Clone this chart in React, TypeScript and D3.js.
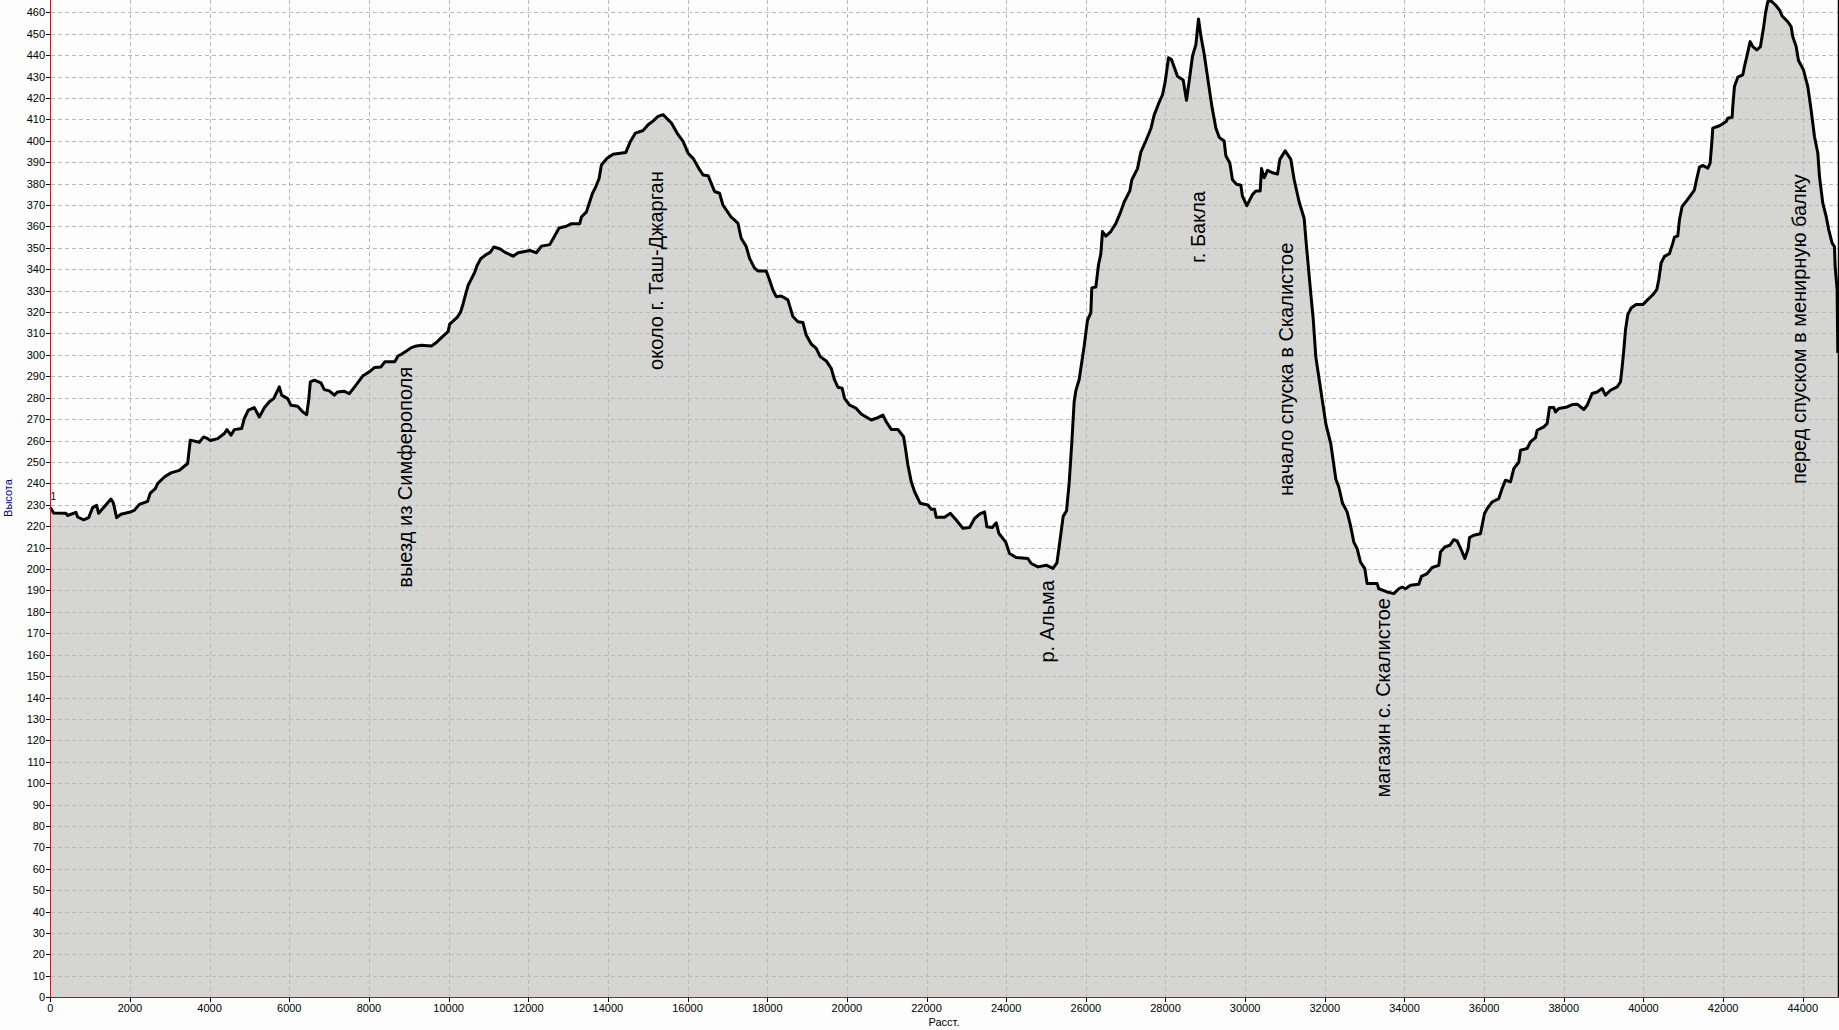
import React from "react";
import * as d3 from "d3";

// ---- data (distance in m, elevation in m) ----
const distances = [
  0, 84, 393, 435, 644, 686, 837, 963, 1063, 1163, 1214, 1339, 1523, 1582, 1666, 1774, 1984, 2109, 2235, 2444,
  2511, 2637, 2695, 2863, 3030, 3239, 3448, 3515, 3741, 3850, 3951, 4018, 4202, 4369, 4436, 4537, 4620, 4804, 4871, 4972,
  5122, 5248, 5374, 5499, 5608, 5750, 5809, 5959, 6043, 6210, 6336, 6437, 6487, 6529, 6629, 6796, 6880, 7006, 7131, 7215,
  7382, 7508, 7675, 7843, 8010, 8136, 8303, 8397, 8648, 8731, 8815, 8941, 9066, 9192, 9317, 9568, 9694, 9820, 9987, 10029,
  10213, 10297, 10364, 10431, 10489, 10573, 10657, 10715, 10807, 10908, 11050, 11134, 11284, 11410, 11619, 11745, 11912, 12038, 12205, 12331,
  12540, 12649, 12774, 12958, 13084, 13293, 13335, 13461, 13544, 13611, 13695, 13779, 13837, 13979, 14130, 14448, 14565, 14691, 14883, 15009,
  15151, 15260, 15386, 15469, 15595, 15737, 15888, 16013, 16139, 16306, 16390, 16516, 16678, 16803, 16887, 16971, 17096, 17264, 17347, 17473,
  17557, 17682, 17766, 17975, 18059, 18142, 18226, 18352, 18519, 18645, 18770, 18896, 18979, 19105, 19231, 19331, 19482, 19607, 19691, 19775,
  19883, 19942, 20067, 20235, 20360, 20612, 20737, 20905, 20988, 21114, 21281, 21423, 21465, 21532, 21616, 21700, 21842, 22034, 22118, 22202,
  22244, 22453, 22595, 22746, 22913, 23081, 23206, 23332, 23457, 23516, 23650, 23750, 23817, 23985, 24085, 24252, 24546, 24629, 24797, 25006,
  25173, 25274, 25341, 25431, 25515, 25582, 25648, 25707, 25749, 25833, 25916, 25958, 26041, 26125, 26150, 26251, 26318, 26376, 26418, 26502,
  26627, 26753, 26862, 26962, 27104, 27155, 27297, 27381, 27506, 27632, 27715, 27824, 27925, 27992, 28075, 28151, 28301, 28444, 28527, 28611,
  28678, 28762, 28829, 28887, 28971, 29080, 29163, 29264, 29348, 29473, 29515, 29615, 29682, 29783, 29892, 29933, 30042, 30185, 30268, 30377,
  30411, 30478, 30561, 30670, 30812, 30871, 31005, 31147, 31231, 31356, 31482, 31524, 31591, 31650, 31708, 31775, 31859, 31942, 32026, 32152,
  32277, 32351, 32445, 32560, 32644, 32728, 32811, 32895, 33004, 33062, 33314, 33355, 33565, 33732, 33858, 33941, 34025, 34151, 34360, 34427,
  34569, 34695, 34862, 34904, 35013, 35138, 35239, 35322, 35431, 35515, 35599, 35632, 35741, 35908, 35950, 36009, 36076, 36201, 36369, 36452,
  36536, 36662, 36745, 36871, 36913, 37080, 37164, 37290, 37331, 37499, 37582, 37641, 37750, 37792, 37875, 38084, 38210, 38336, 38503, 38587,
  38712, 38838, 38963, 39047, 39173, 39340, 39424, 39466, 39507, 39549, 39607, 39691, 39816, 39984, 40109, 40235, 40335, 40385, 40444, 40528,
  40653, 40737, 40779, 40863, 40904, 40971, 41072, 41197, 41281, 41323, 41406, 41490, 41616, 41674, 41716, 41741, 41909, 41992, 42076, 42118,
  42227, 42243, 42285, 42369, 42495, 42536, 42595, 42679, 42746, 42846, 42938, 43013, 43064, 43122, 43206, 43315, 43415, 43482, 43625, 43708,
  43750, 43834, 43893, 44018, 44127, 44210, 44294, 44378, 44420, 44503, 44587, 44653, 44737, 44796, 44813, 44863, 44880,
];

const elevations = [
  228.7, 226.2, 226, 225, 226.5, 224.3, 223, 224, 228.7, 229.8, 226, 228.7, 232.7, 230.9, 224, 225.6, 226.5, 227.4, 230.2, 231.6,
  235.5, 237.6, 239.9, 243, 244.9, 246.1, 249.3, 260.2, 259.2, 261.7, 260.9, 260, 260.9, 263.3, 265.1, 262.5, 265.1, 265.6, 270.3, 274.2,
  275.4, 271, 275.3, 278.1, 279.6, 285.1, 281.2, 279.6, 276.5, 276, 273.4, 272.1, 278.8, 287.4, 288.2, 286.9, 283.8, 283.2, 281.2, 282.7,
  283, 281.9, 285.9, 290.1, 292.1, 294.1, 294.4, 296.8, 296.8, 299.5, 300.3, 301.8, 303.4, 304.2, 304.5, 304.2, 305.8, 308.1, 310.9, 314.4,
  317.5, 319.8, 323.8, 328.5, 332.4, 335.5, 338.6, 341.8, 344.9, 346.4, 348, 350.4, 349.6, 348, 346.1, 347.7, 348.3, 348.8, 347.7, 350.8,
  351.5, 355.1, 359.3, 360.1, 361.3, 361.3, 364.4, 366.8, 371.5, 375.4, 378.5, 382.4, 388.7, 391.8, 393.7, 394.5, 399.7, 403.6, 404.8, 407.5,
  409.5, 411.4, 412.2, 410.6, 408.3, 403.6, 399.7, 394.2, 391.8, 386.4, 384, 383.7, 376.3, 375.5, 370, 367.7, 364.3, 361.5, 354.5, 350.6,
  345.1, 340.5, 339.2, 339.2, 335, 330.3, 327.2, 327.5, 325.7, 317.9, 315.5, 315.1, 309.3, 305.1, 303.1, 299.2, 297.2, 293.7, 288.3, 284.9,
  284.4, 279.7, 276.6, 275, 272.4, 269.6, 270.4, 271.9, 268.8, 265.2, 265.2, 261.8, 257.1, 248.6, 240.8, 236.1, 230.7, 229.9, 227.9, 227.9,
  224.2, 224.2, 226, 222.9, 219, 219.4, 223.6, 225.6, 226.7, 219.7, 219.4, 221.6, 216.6, 212.7, 207.3, 205.4, 204.9, 202.6, 201, 201.8,
  200.3, 202.9, 211.9, 224.6, 227.2, 240.2, 259.2, 278.2, 283.3, 288.5, 298.9, 304.1, 316.2, 319.6, 331.3, 331.7, 342.1, 347.2, 357.6, 355.5,
  357.6, 361.4, 366.2, 371.4, 376.6, 381.8, 387, 394.7, 399.9, 405.6, 412, 417.2, 421.5, 427.5, 438.8, 437.9, 430.1, 428.4, 418.9, 430.1,
  439.6, 444.8, 456.9, 449.1, 440.5, 426.7, 416.3, 406, 401.6, 399.9, 393, 389.6, 381.8, 379.7, 379.2, 374, 369.7, 374.9, 376.6, 376.6,
  387, 382.7, 386.2, 385.2, 384.4, 391.3, 395.3, 391.3, 381.8, 371.4, 363.7, 354.1, 340.3, 328.2, 317, 298.9, 288.5, 278.2, 267.8, 258.3,
  241.9, 238.3, 230.7, 226.7, 220.4, 212.6, 209.5, 203.3, 200.2, 193.2, 193.2, 190.8, 189.3, 188.5, 190.8, 191.6, 190.8, 192.4, 192.9, 196.6,
  197.9, 200.7, 201.7, 208, 210.3, 211.1, 213.7, 213.1, 208.8, 204.9, 209.5, 214.7, 215.8, 216.5, 220.4, 225.9, 228.2, 231.3, 232.9, 237.6,
  241.5, 240.7, 246.9, 250, 255.5, 256.3, 259.4, 261.4, 264.8, 266.4, 267.9, 275.4, 275.4, 273.4, 275, 275.7, 276.8, 277, 274.5, 276.5,
  282, 282.7, 284.3, 281.2, 283.5, 285.1, 287.4, 294.4, 302.2, 311.6, 318.8, 321.9, 323.5, 323.5, 325.8, 328.1, 330.5, 335.1, 342.9, 346,
  347.3, 352.2, 355, 355.6, 363.1, 369.3, 371.7, 374.8, 377.1, 381, 387.7, 388.5, 387.2, 389.6, 398.9, 405.9, 407, 408, 409, 410.5,
  411, 416, 425.3, 429.7, 430.8, 434.7, 439.3, 446.3, 444, 442.4, 444, 452.5, 459.5, 465, 465.3, 463.4, 461.1, 458.3, 455.6, 453.3,
  448.6, 444, 437.5, 433.1, 425.3, 414.4, 402, 394.2, 383.3, 370.9, 364.7, 358.4, 352.2, 350.6, 341.3, 330.5, 300.9,
];

const xTicks = d3.range(0, 44001, 2000);
const yTicks = d3.range(0, 461, 10);

const annotationTexts = [
  "выезд из Симферополя",
  "около г. Таш-Джарган",
  "р. Альма",
  "г. Бакла",
  "начало спуска в Скалистое",
  "магазин с. Скалистое",
  "перед спуском в менирную балку",
];
const annotationDistances = [9074, 15383, 25194, 29003, 31195, 33646, 44093];
const annotationElevations = [191.3, 293, 156.3, 342.9, 234.1, 93.3, 239.7];

const xTitle = "Расст.";
const yTitle = "Высота";
const startMarker = "1";

const W = 1839;
const H = 1030;
const FONT = "'Liberation Sans', Arial, sans-serif";

export default function App() {
  const x = d3.scaleLinear().domain([0, 44900]).range([50.3, 1838.6]);
  const y = d3.scaleLinear().domain([0, 460]).range([997.3, 12.3]);
  const pts = distances.map((d, i) => [d, elevations[i]] as [number, number]);

  const area = d3
    .area<[number, number]>()
    .x((d) => x(d[0]))
    .y0(y(0))
    .y1((d) => Math.max(0, y(d[1])));
  const line = d3
    .line<[number, number]>()
    .x((d) => x(d[0]))
    .y((d) => Math.max(1, y(d[1])));

  const plotLeft = 50;
  const plotRight = 1838;
  const plotBottom = Math.round(y(0));

  return (
    <svg
      width={W}
      height={H}
      style={{ position: "absolute", left: 0, top: 0, display: "block" }}
      fontFamily={FONT}
    >
      <rect x={0} y={0} width={W} height={H} fill="#fcfdfc" />
      <path d={area(pts) || ""} fill="#d5d6d4" />
      {/* grid */}
      <g stroke="#b9b9b9" strokeWidth={1} strokeDasharray="4,3" shapeRendering="crispEdges">
        {yTicks
          .filter((v) => v > 0)
          .map((v) => (
            <line key={"gy" + v} x1={plotLeft + 1} x2={plotRight} y1={Math.round(y(v)) + 0.5} y2={Math.round(y(v)) + 0.5} />
          ))}
        {xTicks
          .filter((v) => v > 0)
          .map((v) => (
            <line key={"gx" + v} x1={Math.round(x(v)) + 0.5} x2={Math.round(x(v)) + 0.5} y1={0} y2={plotBottom} />
          ))}
      </g>
      {/* profile line */}
      <path d={line(pts) || ""} fill="none" stroke="#000" strokeWidth={3} strokeLinejoin="round" />
      {/* right border */}
      <line x1={plotRight + 0.5} x2={plotRight + 0.5} y1={0} y2={plotBottom} stroke="#000" strokeWidth={1.5} />
      {/* axes */}
      <g shapeRendering="crispEdges">
        <line x1={plotLeft + 0.5} x2={plotLeft + 0.5} y1={0} y2={plotBottom + 1} stroke="#ff0000" strokeWidth={1} />
        <line x1={plotLeft} x2={plotRight + 1} y1={plotBottom + 0.5} y2={plotBottom + 0.5} stroke="#e00000" strokeWidth={1} />
        {yTicks.map((v) => (
          <line key={"ty" + v} x1={46} x2={plotLeft} y1={Math.round(y(v)) + 0.5} y2={Math.round(y(v)) + 0.5} stroke="#000" />
        ))}
        {xTicks.map((v) => (
          <line key={"tx" + v} x1={Math.round(x(v)) + 0.5} x2={Math.round(x(v)) + 0.5} y1={plotBottom + 1} y2={plotBottom + 5} stroke="#000" />
        ))}
      </g>
      <g fontSize={11} fill="#000">
        {yTicks.map((v) => (
          <text key={"ly" + v} x={45} y={y(v) + 4} textAnchor="end">
            {v}
          </text>
        ))}
        {xTicks.map((v) => (
          <text key={"lx" + v} x={x(v)} y={1012} textAnchor="middle">
            {v}
          </text>
        ))}
        <text x={944} y={1026} textAnchor="middle">
          {xTitle}
        </text>
        <text transform={`translate(11.5,498) rotate(-90)`} textAnchor="middle" fill="#000080">
          {yTitle}
        </text>
        <text x={50.5} y={500} fontSize={10}>
          {startMarker}
        </text>
      </g>
      <g fontSize={20} fill="#000">
        {annotationTexts.map((t, i) => (
          <text
            key={"a" + i}
            transform={`translate(${x(annotationDistances[i])},${y(annotationElevations[i])}) rotate(-90)`}
          >
            {t}
          </text>
        ))}
      </g>
    </svg>
  );
}
